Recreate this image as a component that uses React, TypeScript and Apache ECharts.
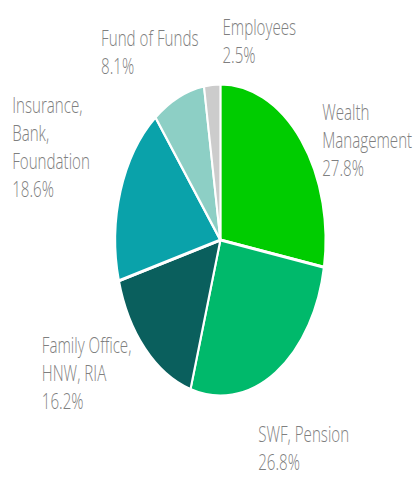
import React, { useEffect, useRef } from "react";
import * as echarts from "echarts";

const categories = [
  "Wealth\nManagement",
  "SWF, Pension",
  "Family Office,\nHNW, RIA",
  "Insurance,\nBank,\nFoundation",
  "Fund of Funds",
  "Employees",
];
const values = [27.8, 26.8, 16.2, 18.6, 8.1, 2.5];
const colors = ["#00cc00", "#00b96b", "#0a5f5d", "#0aa2aa", "#8dcfc5", "#cccccc"];

// label anchor positions (left edge, vertical middle) in unscaled chart space
const labelPos: [number, number][] = [
  [478, 139],
  [383, 447],
  [62, 372],
  [18, 146],
  [150, 51],
  [330, 40],
];

const SCALE_X = 0.674;
const W = Math.round(420 / SCALE_X);
const H = 477;

export default function App() {
  const ref = useRef<HTMLDivElement>(null);
  useEffect(() => {
    if (!ref.current) return;
    const chart = echarts.init(ref.current, undefined, { renderer: "svg" });
    chart.setOption({
      animation: false,
      series: [
        {
          type: "pie",
          center: [327, 240],
          radius: ["0%", 156],
          startAngle: 90,
          clockwise: true,
          avoidLabelOverlap: false,
          itemStyle: { borderColor: "#ffffff", borderWidth: 3 },
          label: {
            show: true,
            position: "outside",
            formatter: (p: any) => `{t|${p.name}\n${p.value.toFixed(1)}%}`,
            rich: {
              t: {
                fontFamily: "Open Sans",
                fontWeight: 300,
                fontSize: 22.5,
                lineHeight: 28,
                color: "#7f7f7f",
                align: "left",
              },
            },
          },
          labelLine: { show: false },
          labelLayout: (params: any) => {
            const pos = labelPos[params.dataIndex];
            return { x: pos[0], y: pos[1], align: "left", verticalAlign: "middle" };
          },
          emphasis: { disabled: true },
          data: categories.map((c, i) => ({
            name: c,
            value: values[i],
            itemStyle: { color: colors[i] },
          })),
        },
      ],
    });
    return () => chart.dispose();
  }, []);
  return (
    <div style={{ position: "fixed", left: 0, top: 0, width: 420, height: 477, overflow: "hidden", background: "#fff" }}>
      <div
        ref={ref}
        style={{ width: W, height: H, transform: `scaleX(${SCALE_X})`, transformOrigin: "0 0" }}
      />
    </div>
  );
}
